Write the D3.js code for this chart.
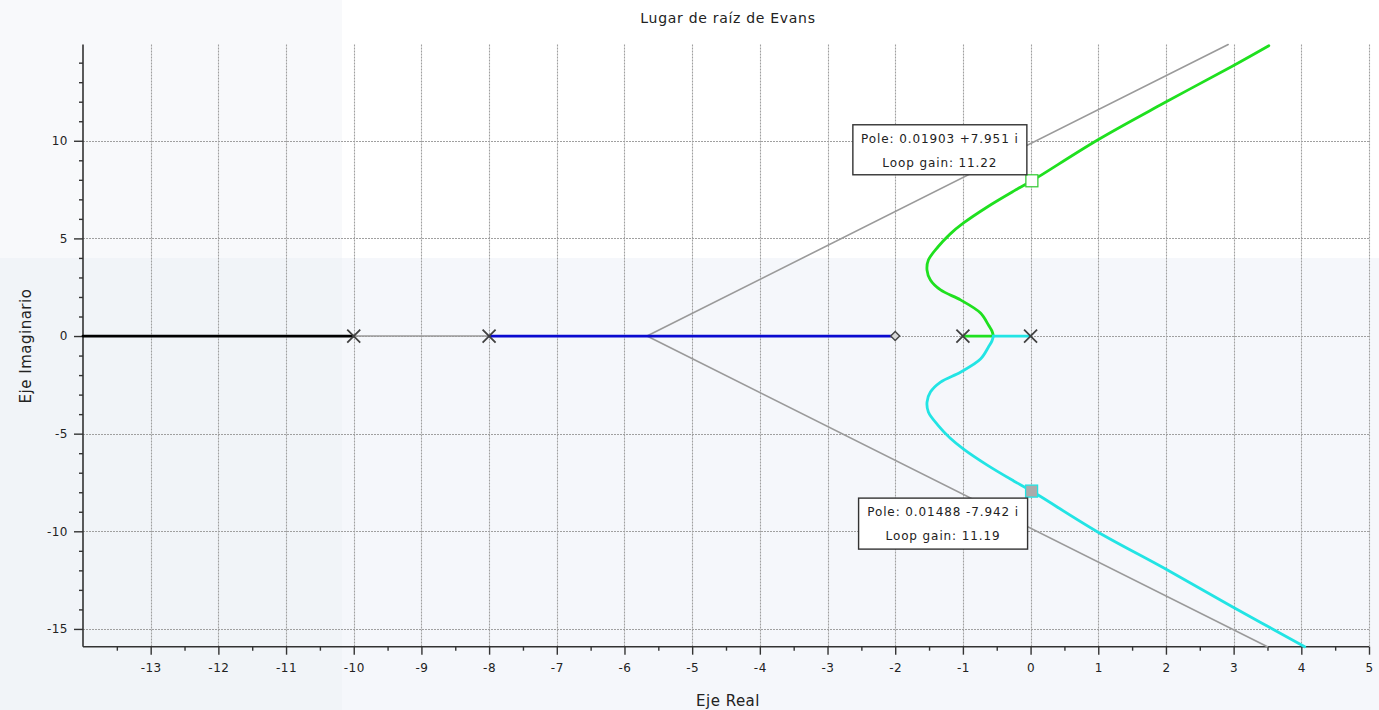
<!DOCTYPE html>
<html>
<head>
<meta charset="utf-8">
<script src="https://cdn.jsdelivr.net/npm/d3@7"></script>
<style>
  html, body { margin: 0; padding: 0; background: #ffffff; }
  svg { display: block; }
  text { font-family: "DejaVu Sans", sans-serif; fill: #222; }
</style>
</head>
<body>
<svg id="chart" width="1379" height="710"></svg>
<script>
// Open-loop poles and zero of the system
const poles = [-10, -8, -1, 0];
const zeros = [-2];

// Tick values
const xTicks = [-13, -12, -11, -10, -9, -8, -7, -6, -5, -4, -3, -2, -1, 0, 1, 2, 3, 4, 5];
const yTicks = [-15, -10, -5, 0, 5, 10];

// Asymptote centroid and end points
const centroid = -5.667;
const asymUpper = [[-5.667, 0], [2.92, 14.93]];
const asymLower = [[-5.667, 0], [3.50, -15.91]];
const asymReal = [[-10, 0], [-5.667, 0]];

// Real-axis branches
const branchBlack = [[-14, 0], [-10, 0]];
const branchBlue = [[-8, 0], [-2, 0]];

// Complex branch leaving pole -1 (upper half plane)
const greenRe = [-1.0, -0.55, -0.57, -0.62, -0.74, -1.03, -1.33, -1.48, -1.53, -1.51, -1.37, -1.19, -0.99, -0.64, -0.25, 0.02, 0.99, 1.97, 2.98, 3.52];
const greenIm = [0, 0, 0.25, 0.55, 1.18, 1.84, 2.36, 2.87, 3.38, 3.89, 4.56, 5.22, 5.79, 6.61, 7.42, 7.95, 10.04, 11.93, 13.82, 14.87];

// Complex branch leaving pole 0 (lower half plane)
const cyanRe = [0, -0.55, -0.57, -0.62, -0.74, -1.03, -1.33, -1.48, -1.53, -1.51, -1.37, -1.19, -0.99, -0.64, -0.25, 0.015, 0.985, 1.97, 2.98, 4.05];
const cyanIm = [0, 0, -0.25, -0.55, -1.18, -1.84, -2.36, -2.87, -3.38, -3.89, -4.56, -5.22, -5.79, -6.61, -7.42, -7.94, -10.02, -11.88, -13.86, -15.91];

// Data tips
const tipPoints = [
  { re: 0.01903, im: 7.951, gain: "11.22", sign: "+", imTxt: "7.951", reTxt: "0.01903" },
  { re: 0.01488, im: -7.942, gain: "11.19", sign: "-", imTxt: "7.942", reTxt: "0.01488" }
];

const svg = d3.select("#chart");
const W = 1379, H = 710;

// Backdrop panels
const panels = [
  { x: 0, y: 0, w: 342, h: 258, c: "#f8f9fb" },
  { x: 342, y: 0, w: W - 342, h: 258, c: "#ffffff" },
  { x: 0, y: 258, w: 342, h: H - 258, c: "#f1f4f8" },
  { x: 342, y: 258, w: W - 342, h: H - 258, c: "#f5f7fb" }
];
svg.selectAll("rect.bg").data(panels).enter().append("rect")
  .attr("class", "bg")
  .attr("x", d => d.x).attr("y", d => d.y)
  .attr("width", d => d.w).attr("height", d => d.h)
  .attr("fill", d => d.c);

const pL = 83, pR = 1369, pT = 44.5, pB = 646.7;
const x = d3.scaleLinear().domain([-14, 5]).range([pL, pR]);
const y = d3.scaleLinear().domain([-15.91, 14.93]).range([pB, pT]);

// Grid
const grid = svg.append("g").attr("stroke", "#a0a0a0").attr("stroke-width", 1.1).attr("stroke-dasharray", "2,1");
grid.selectAll("line.gx").data(xTicks).enter().append("line")
  .attr("x1", d => Math.round(x(d)) + 0.5).attr("x2", d => Math.round(x(d)) + 0.5)
  .attr("y1", pT).attr("y2", pB);
grid.selectAll("line.gy").data(yTicks).enter().append("line")
  .attr("x1", pL).attr("x2", pR)
  .attr("y1", d => Math.round(y(d)) + 0.5).attr("y2", d => Math.round(y(d)) + 0.5);

// Axes
const xMinor = d3.range(-13.5, 5.01, 0.5).filter(v => !Number.isInteger(v));
const yMinor = d3.range(-15, 14.01, 1).filter(v => v % 5 !== 0);

const xAxis = d3.axisBottom(x).tickValues(xTicks).tickSize(8).tickPadding(9)
  .tickFormat(d => d < 0 ? "-" + Math.abs(d) : String(d));
const xAxisMinor = d3.axisBottom(x).tickValues(xMinor).tickSize(4).tickFormat("");
const yAxis = d3.axisLeft(y).tickValues(yTicks).tickSize(9).tickPadding(6)
  .tickFormat(d => d < 0 ? "-" + Math.abs(d) : String(d));
const yAxisMinor = d3.axisLeft(y).tickValues(yMinor).tickSize(4).tickFormat("");

function styleAxis(g) {
  g.select(".domain").attr("stroke", "#333").attr("stroke-width", 1.6);
  g.selectAll(".tick line").attr("stroke", "#333").attr("stroke-width", 1.4);
  g.selectAll(".tick text").attr("fill", "#1e1e1e").style("font-family", "DejaVu Sans, sans-serif").style("font-size", "12px").style("letter-spacing", "0.5px");
}
svg.append("g").attr("transform", `translate(0,${pB})`).call(xAxisMinor).call(styleAxis).select(".domain").remove();
svg.append("g").attr("transform", `translate(0,${pB})`).call(xAxis).call(g => {
  g.select(".domain").attr("d", `M${pL},0H${pR}`);
  styleAxis(g);
});
svg.append("g").attr("transform", `translate(${pL},0)`).call(yAxisMinor).call(styleAxis).select(".domain").remove();
svg.append("g").attr("transform", `translate(${pL},0)`).call(yAxis).call(g => {
  g.select(".domain").attr("d", `M0,${pT}V${pB}`);
  styleAxis(g);
});

// Locus drawing
const line = d3.line().x(d => x(d[0])).y(d => y(d[1]));
const smooth = d3.line().x(d => x(d[0])).y(d => y(d[1])).curve(d3.curveCatmullRom.alpha(0.5));
const plot = svg.append("g").attr("fill", "none").attr("stroke-linejoin", "round").attr("stroke-linecap", "round");

[asymReal, asymUpper, asymLower].forEach(seg => {
  plot.append("path").attr("d", line(seg)).attr("stroke", "#9a9a9a").attr("stroke-width", 1.6);
});

plot.append("path").attr("d", line(branchBlack)).attr("stroke", "#000000").attr("stroke-width", 2.8);
plot.append("path").attr("d", line(branchBlue)).attr("stroke", "#0a0ad0").attr("stroke-width", 2.8);

const greenPts = greenRe.map((v, i) => [v, greenIm[i]]);
const cyanPts = cyanRe.map((v, i) => [v, cyanIm[i]]);
plot.append("path").attr("d", line(greenPts.slice(0, 2))).attr("stroke", "#1fe01f").attr("stroke-width", 2.8);
plot.append("path").attr("d", smooth(greenPts.slice(1))).attr("stroke", "#1fe01f").attr("stroke-width", 2.8);
plot.append("path").attr("d", line(cyanPts.slice(0, 2))).attr("stroke", "#22e4e4").attr("stroke-width", 2.8);
plot.append("path").attr("d", smooth(cyanPts.slice(1))).attr("stroke", "#22e4e4").attr("stroke-width", 2.8);

// Pole crosses
const cs = 6.5;
svg.selectAll("path.pole").data(poles).enter().append("path")
  .attr("class", "pole")
  .attr("d", d => {
    const px = x(d), py = y(0);
    return `M${px - cs},${py - cs}L${px + cs},${py + cs}M${px - cs},${py + cs}L${px + cs},${py - cs}`;
  })
  .attr("stroke", "#404040").attr("stroke-width", 1.8).attr("fill", "none");

// Zero diamonds
svg.selectAll("path.zero").data(zeros).enter().append("path")
  .attr("class", "zero")
  .attr("d", d => {
    const px = x(d), py = y(0), r = 4.5;
    return `M${px},${py - r}L${px + r},${py}L${px},${py + r}L${px - r},${py}Z`;
  })
  .attr("stroke", "#444").attr("stroke-width", 1.4).attr("fill", "#d8d8d8");

// Data tip markers
svg.append("rect")
  .attr("x", x(tipPoints[0].re) - 6).attr("y", y(tipPoints[0].im) - 6)
  .attr("width", 12).attr("height", 12)
  .attr("fill", "#ffffff").attr("stroke", "#3ccc3c").attr("stroke-width", 1.3);
svg.append("rect")
  .attr("x", x(tipPoints[1].re) - 6).attr("y", y(tipPoints[1].im) - 6)
  .attr("width", 12).attr("height", 12)
  .attr("fill", "#ababab").attr("stroke", "#22e4e4").attr("stroke-width", 1.3);

// Data tip boxes
const boxes = [
  { p: tipPoints[0], dx: -179, dy: -56, w: 174, h: 50 },
  { p: tipPoints[1], dx: -173, dy: 7, w: 169, h: 51 }
];
boxes.forEach(b => {
  const bx = x(b.p.re) + b.dx, by = y(b.p.im) + b.dy;
  const g = svg.append("g");
  g.append("rect").attr("x", bx).attr("y", by).attr("width", b.w).attr("height", b.h)
    .attr("fill", "#ffffff").attr("stroke", "#333").attr("stroke-width", 1.4);
  g.append("text").attr("x", bx + b.w / 2).attr("y", by + 18).attr("text-anchor", "middle")
    .style("font-size", "12px").style("letter-spacing", "0.9px")
    .text(`Pole: ${b.p.reTxt} ${b.p.sign}${b.p.imTxt} i`);
  g.append("text").attr("x", bx + b.w / 2).attr("y", by + 42).attr("text-anchor", "middle")
    .style("font-size", "12px").style("letter-spacing", "0.9px")
    .text(`Loop gain: ${b.p.gain}`);
});

// Titles
svg.append("text").attr("x", 728).attr("y", 23).attr("text-anchor", "middle")
  .style("font-size", "14px").style("letter-spacing", "0.7px").text("Lugar de raíz de Evans");
svg.append("text").attr("x", 728).attr("y", 706).attr("text-anchor", "middle")
  .style("font-size", "15px").style("letter-spacing", "0.5px").text("Eje Real");
svg.append("text").attr("transform", "translate(31,346) rotate(-90)").attr("text-anchor", "middle")
  .style("font-size", "15px").style("letter-spacing", "0.5px").text("Eje Imaginario");
</script>
</body>
</html>
